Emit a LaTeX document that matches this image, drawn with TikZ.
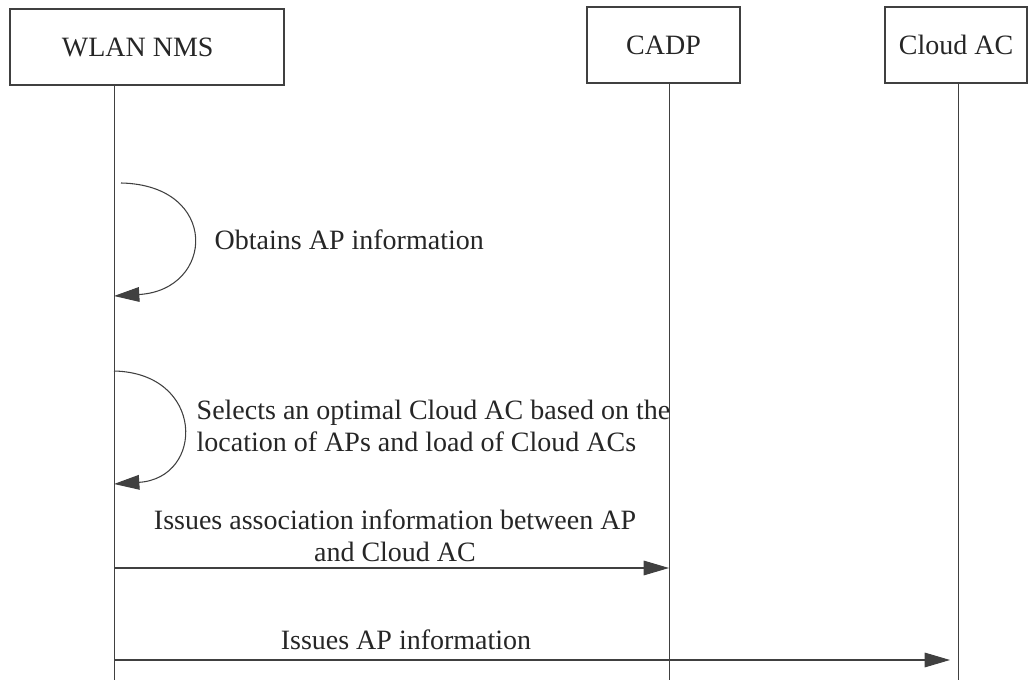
\documentclass[tikz,border=0pt]{standalone}
\usepackage{fontspec}
\setmainfont{Liberation Serif}
\usetikzlibrary{arrows.meta}
\definecolor{linegray}{HTML}{404040}
\tikzset{
    actor/.style={draw=linegray, line width=1.5pt, minimum height=57pt, inner sep=0pt},
    life/.style={draw=linegray, line width=0.7pt},
    msg/.style={draw=linegray, line width=0.8pt, -{Triangle[length=19pt, width=11pt]}},
}
\begin{document}
\begin{tikzpicture}[x=0.75pt, y=-0.75pt, font=\fontsize{21}{24}\selectfont, text=black!85]
        \useasboundingbox (0, 0) rectangle (1029, 680);
        \node (nms) at (147, 47) [actor, minimum width=205.5pt] {\hspace*{-14pt}WLAN NMS};
        \node (cadp) at (663.5, 45) [actor, minimum width=115pt] {CADP};
        \node (cloud) at (956, 45) [actor, minimum width=106.5pt] {Cloud AC};
        \coordinate (nmstop) at (114, 85);
        \coordinate (nmsbot) at (114, 680);
        \coordinate (cadptop) at (669, 83);
        \coordinate (cadpbot) at (669, 680);
        \coordinate (cloudtop) at (958, 83);
        \coordinate (cloudbot) at (958, 680);
        \draw[life] (nmstop) -- (nmsbot);
        \draw[life] (cadptop) -- (cadpbot);
        \draw[life] (cloudtop) -- (cloudbot);
        % self messages on the NMS lifeline
        \coordinate (s1) at (121, 183);
        \coordinate (e1) at (114, 296);
        \draw[msg] (s1) .. controls (220, 185) and (215, 290) .. (e1);
        \node (obtain) at (210, 240) [anchor=west] {Obtains AP information};
        \coordinate (s2) at (114, 371);
        \coordinate (e2) at (114, 484);
        \draw[msg] (s2) .. controls (205, 373) and (205, 478) .. (e2);
        \node (select) at (192, 426) [anchor=west, align=left] {Selects an optimal Cloud AC based on the\\location of APs and load of Cloud ACs};
        % messages to CADP and Cloud AC
        \coordinate (m3a) at (114, 568);
        \coordinate (m3b) at (669, 568);
        \draw[msg] (m3a) -- (m3b);
        \node (assoc) at (395, 536) [align=center] {Issues association information between AP\\and Cloud AC};
        \coordinate (m4a) at (114, 660);
        \coordinate (m4b) at (950, 660);
        \draw[msg] (m4a) -- (m4b);
        \node (issue) at (406, 640) {Issues AP information};
    \end{tikzpicture}
\end{document}
